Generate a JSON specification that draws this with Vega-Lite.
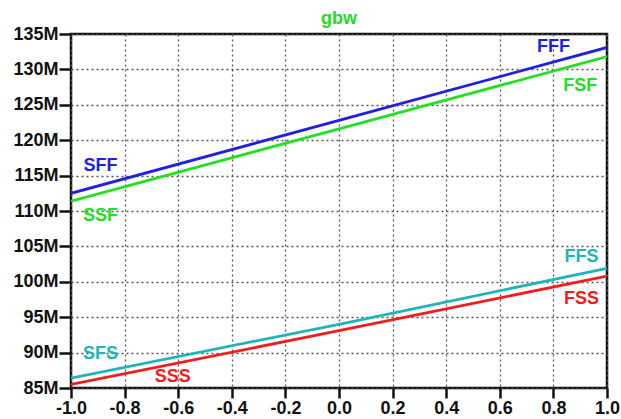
{
  "$schema": "https://vega.github.io/schema/vega-lite/v6.json",
  "width": 536,
  "height": 354,
  "autosize": {"type": "none"},
  "padding": {"left": 71, "top": 34, "right": 14, "bottom": 31},
  "background": "white",
  "title": {"text": "gbw", "color": "#22dd22", "font": "Liberation Sans", "fontWeight": "bold", "fontSize": 18, "anchor": "middle", "offset": -3},
  "config": {
    "view": {"stroke": "#111", "strokeWidth": 2.5},
    "axis": {"labelOverlap": false, "labelFlush": false}
  },
  "datasets": {
    "lines": [
      {"x": -1.0, "y": 112.5, "s": "FFF"},
      {"x": 0.0, "y": 122.8, "s": "FFF"},
      {"x": 1.0, "y": 133.1, "s": "FFF"},
      {"x": -1.0, "y": 111.4, "s": "FSF"},
      {"x": 0.0, "y": 121.6, "s": "FSF"},
      {"x": 1.0, "y": 131.8, "s": "FSF"},
      {"x": -1.0, "y": 86.4, "s": "FFS"},
      {"x": 0.0, "y": 94.0, "s": "FFS"},
      {"x": 1.0, "y": 101.9, "s": "FFS"},
      {"x": -1.0, "y": 85.5, "s": "FSS"},
      {"x": 0.0, "y": 93.1, "s": "FSS"},
      {"x": 1.0, "y": 100.8, "s": "FSS"}
    ],
    "labels": [
      {"x": 0.8, "y": 133.1, "t": "FFF", "s": "FFF"},
      {"x": 0.9, "y": 127.7, "t": "FSF", "s": "FSF"},
      {"x": -0.89, "y": 116.3, "t": "SFF", "s": "FFF"},
      {"x": -0.89, "y": 109.3, "t": "SSF", "s": "FSF"},
      {"x": 0.905, "y": 103.55, "t": "FFS", "s": "FFS"},
      {"x": 0.905, "y": 97.55, "t": "FSS", "s": "FSS"},
      {"x": -0.89, "y": 89.8, "t": "SFS", "s": "FFS"},
      {"x": -0.62, "y": 86.6, "t": "SSS", "s": "FSS"}
    ]
  },
  "encoding": {
    "x": {"field": "x", "type": "quantitative", "scale": {"domain": [-1, 1], "nice": false, "zero": false},
          "axis": {"values": [-1, -0.8, -0.6, -0.4, -0.2, 0, 0.2, 0.4, 0.6, 0.8, 1],
                   "labelExpr": "replace(format(datum.value, '.1f'), '\u2212', '-')",
                   "title": null, "domain": false, "grid": true, "gridColor": "#555", "gridDash": [2, 3], "gridWidth": 1.3,
                   "ticks": true, "tickColor": "#111", "tickWidth": 2.5, "tickSize": 10,
                   "labelFont": "Liberation Sans", "labelFontWeight": "bold", "labelFontSize": 18, "labelColor": "#111",
                   "labelPadding": 1, "labelOverlap": false, "labelFlush": false}},
    "y": {"field": "y", "type": "quantitative", "scale": {"domain": [85, 135], "nice": false, "zero": false},
          "axis": {"values": [85, 90, 95, 100, 105, 110, 115, 120, 125, 130, 135], "labelExpr": "datum.value + 'M'",
                   "title": null, "domain": false, "grid": true, "gridColor": "#555", "gridDash": [2, 3], "gridWidth": 1.3,
                   "ticks": true, "tickColor": "#111", "tickWidth": 2.5, "tickSize": 12,
                   "labelFont": "Liberation Sans", "labelFontWeight": "bold", "labelFontSize": 18, "labelColor": "#111",
                   "labelPadding": 1, "labelOverlap": false, "labelFlush": false, "labelBound": false}},
    "color": {"field": "s", "type": "nominal",
              "scale": {"domain": ["FFF", "FSF", "FFS", "FSS"], "range": ["#1f1fe8", "#22e022", "#1fb5b5", "#f21c1c"]},
              "legend": null}
  },
  "layer": [
    {
      "data": {"name": "lines"},
      "mark": {"type": "line", "strokeWidth": 2.8, "clip": true}
    },
    {
      "data": {"name": "labels"},
      "mark": {"type": "text", "font": "Liberation Sans", "fontWeight": "bold", "fontSize": 18, "align": "center", "baseline": "middle"},
      "encoding": {
        "text": {"field": "t"}
      }
    }
  ]
}
